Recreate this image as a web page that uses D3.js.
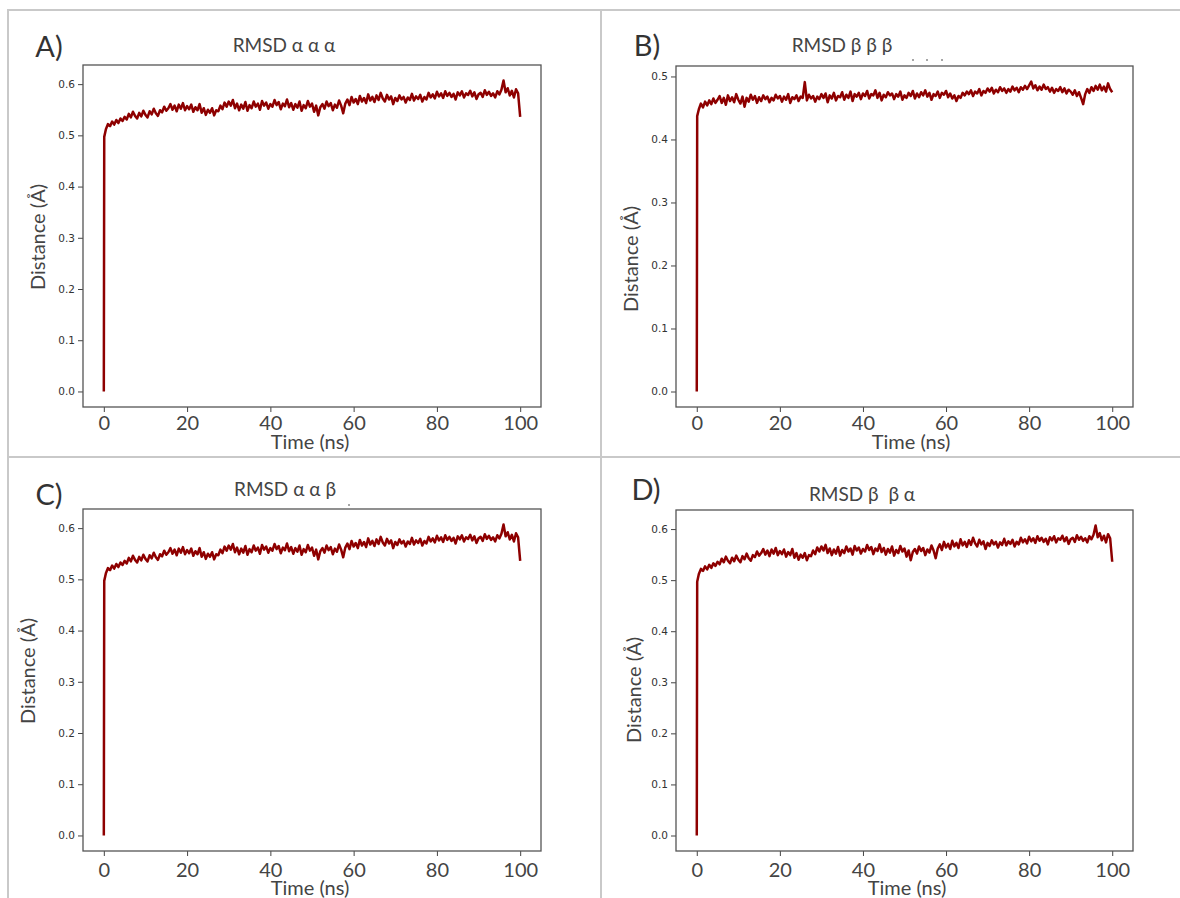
<!DOCTYPE html>
<html><head><meta charset="utf-8">
<script src="https://cdn.jsdelivr.net/npm/d3@7"></script>
<style>body{margin:0;background:#fff} svg{display:block}</style>
</head><body>
<svg id="c" width="1180" height="898"></svg>
<script>
// ---------- data ----------
const panelLetters = ["A)", "B)", "C)", "D)"];
const panelTitles = ["RMSD α α α", "RMSD β β β", "RMSD α α β", "RMSD β  β α"];
const xTicks = [0, 20, 40, 60, 80, 100];
const yTicksAlpha = [0.0, 0.1, 0.2, 0.3, 0.4, 0.5, 0.6];
const yTicksBeta = [0.0, 0.1, 0.2, 0.3, 0.4, 0.5];
const xLabel = "Time (ns)";
const yLabel = "Distance (Å)";
// sampling times (ns): two start samples, then every 0.5 ns up to 100
const timeHead = [0, 0.1];
const timeStep = 0.5;
const timeCount = 200;

// RMSD alpha-alpha-alpha (same trace appears in panels A, C, D)
const rmsdAAA = [
  0.000, 0.497,
  0.512, 0.522, 0.518, 0.527, 0.521, 0.530, 0.524, 0.533, 0.528, 0.536,
  0.531, 0.542, 0.535, 0.546, 0.538, 0.533, 0.544, 0.537, 0.548, 0.540,
  0.535, 0.547, 0.541, 0.552, 0.543, 0.538, 0.549, 0.545, 0.556, 0.548,
  0.553, 0.561, 0.550, 0.558, 0.547, 0.560, 0.552, 0.563, 0.549, 0.557,
  0.551, 0.560, 0.546, 0.555, 0.549, 0.561, 0.544, 0.553, 0.540, 0.550,
  0.544, 0.553, 0.539, 0.549, 0.547, 0.558, 0.551, 0.564, 0.556, 0.566,
  0.558, 0.569, 0.553, 0.562, 0.549, 0.560, 0.552, 0.565, 0.548, 0.559,
  0.553, 0.566, 0.556, 0.562, 0.550, 0.567, 0.558, 0.564, 0.552, 0.561,
  0.556, 0.569, 0.559, 0.565, 0.551, 0.562, 0.557, 0.570, 0.555, 0.563,
  0.550, 0.561, 0.554, 0.566, 0.548, 0.559, 0.553, 0.567, 0.556, 0.562,
  0.546, 0.558, 0.539, 0.555, 0.561, 0.552, 0.566, 0.557, 0.563, 0.549,
  0.560, 0.554, 0.568, 0.558, 0.543, 0.562, 0.570, 0.559, 0.575, 0.564,
  0.571, 0.561, 0.577, 0.566, 0.573, 0.563, 0.580, 0.568, 0.575, 0.565,
  0.578, 0.569, 0.583, 0.572, 0.566, 0.579, 0.570, 0.576, 0.561, 0.573,
  0.567, 0.578, 0.570, 0.575, 0.564, 0.574, 0.569, 0.581, 0.568, 0.576,
  0.571, 0.579, 0.566, 0.575, 0.570, 0.583, 0.574, 0.580, 0.572, 0.585,
  0.576, 0.582, 0.573, 0.586, 0.577, 0.583, 0.575, 0.581, 0.570, 0.584,
  0.578, 0.586, 0.574, 0.582, 0.579, 0.587, 0.576, 0.584, 0.571, 0.580,
  0.583, 0.575, 0.588, 0.579, 0.585, 0.577, 0.582, 0.574, 0.586, 0.580,
  0.589, 0.607, 0.584, 0.592, 0.578, 0.587, 0.574, 0.590, 0.582, 0.536
];

// RMSD beta-beta-beta (panel B)
const rmsdBBB = [
  0.000, 0.437,
  0.448, 0.457, 0.451, 0.460, 0.454, 0.462, 0.456, 0.465, 0.458, 0.463,
  0.469, 0.458, 0.466, 0.455, 0.470, 0.461, 0.467, 0.459, 0.472, 0.463,
  0.457, 0.468, 0.452, 0.466, 0.460, 0.471, 0.463, 0.469, 0.458, 0.467,
  0.461, 0.470, 0.464, 0.468, 0.459, 0.466, 0.462, 0.471, 0.465, 0.469,
  0.460, 0.468, 0.463, 0.472, 0.458, 0.467, 0.464, 0.470, 0.461, 0.468,
  0.466, 0.491, 0.462, 0.471, 0.465, 0.469, 0.460, 0.468, 0.464, 0.472,
  0.466, 0.473, 0.459, 0.470, 0.465, 0.474, 0.462, 0.469, 0.467, 0.475,
  0.463, 0.471, 0.466, 0.476, 0.461, 0.472, 0.468, 0.474, 0.464, 0.473,
  0.469, 0.477, 0.465, 0.472, 0.470, 0.478, 0.466, 0.474, 0.462, 0.471,
  0.467, 0.475, 0.470, 0.473, 0.464, 0.472, 0.468, 0.476, 0.463, 0.470,
  0.466, 0.474, 0.469, 0.477, 0.465, 0.473, 0.467, 0.475, 0.470, 0.478,
  0.468, 0.474, 0.463, 0.472, 0.469, 0.476, 0.466, 0.474, 0.471, 0.477,
  0.467, 0.473, 0.465, 0.470, 0.461, 0.469, 0.466, 0.474, 0.470, 0.476,
  0.472, 0.478, 0.469, 0.476, 0.473, 0.480, 0.470, 0.477, 0.474, 0.481,
  0.476, 0.482, 0.473, 0.479, 0.475, 0.483, 0.477, 0.481, 0.474, 0.480,
  0.476, 0.484, 0.478, 0.482, 0.475, 0.483, 0.479, 0.485, 0.480, 0.486,
  0.492, 0.481, 0.486, 0.478, 0.484, 0.479, 0.487, 0.480, 0.483, 0.476,
  0.482, 0.474, 0.480, 0.477, 0.483, 0.475, 0.481, 0.473, 0.479, 0.476,
  0.471, 0.478, 0.469, 0.475, 0.466, 0.456, 0.472, 0.480, 0.474, 0.483,
  0.477, 0.485, 0.479, 0.487, 0.478, 0.484, 0.476, 0.489, 0.480, 0.475
];

const times = timeHead.concat(d3.range(1, timeCount + 1).map(i => i * timeStep));
const seriesList = [rmsdAAA, rmsdBBB, rmsdAAA, rmsdAAA];
const yTickList = [yTicksAlpha, yTicksBeta, yTicksAlpha, yTicksAlpha];

// ---------- layout ----------
const layout = [
  {x0: 83, x1: 541, y0: 65, y1: 407, letter: [49, 45], title: [284, 44], ylab: [37, 237], xlab: [310, 441], tickLab: 423},
  {x0: 676, x1: 1133, y0: 66, y1: 407, letter: [647, 44], title: [842, 44], ylab: [630, 259], xlab: [911, 441], tickLab: 423},
  {x0: 83, x1: 541, y0: 509, y1: 851, letter: [49, 493], title: [285, 488], ylab: [27, 671], xlab: [310, 887], tickLab: 870},
  {x0: 676, x1: 1133, y0: 510, y1: 851, letter: [646, 488], title: [862, 493], ylab: [633, 690], xlab: [907, 887], tickLab: 870}
];

const svg = d3.select("#c");
const BIG = "Lato, 'Open Sans', sans-serif";
const SMALL = "'DejaVu Sans', sans-serif";

// panel frame lines
const frame = svg.append("g").attr("stroke", "#c9c9c9").attr("stroke-width", 2);
[[7, 10, 1180, 10], [8, 10, 8, 898], [601, 10, 601, 898], [7, 457, 1180, 457]].forEach(l =>
  frame.append("line").attr("x1", l[0]).attr("y1", l[1]).attr("x2", l[2]).attr("y2", l[3]));

layout.forEach((L, i) => {
  const vals = seriesList[i];
  const ext = d3.extent(vals);
  const pad = (ext[1] - ext[0]) * 0.05;
  const x = d3.scaleLinear().domain([-5, 105]).range([L.x0, L.x1]);
  const y = d3.scaleLinear().domain([ext[0] - pad, ext[1] + pad]).range([L.y1, L.y0]);
  const g = svg.append("g");

  // y axis
  const ya = g.append("g").attr("transform", `translate(${L.x0},0)`)
    .call(d3.axisLeft(y).tickValues(yTickList[i]).tickFormat(d3.format(".1f")).tickSize(5).tickPadding(3));
  ya.select(".domain").remove();
  ya.selectAll(".tick line").attr("stroke", "#444");
  ya.selectAll(".tick text").attr("font-family", SMALL).attr("font-size", 10.5).attr("fill", "#333");

  // x axis
  const xa = g.append("g").attr("transform", `translate(0,${L.y1})`)
    .call(d3.axisBottom(x).tickValues(xTicks).tickSize(5));
  xa.select(".domain").remove();
  xa.selectAll(".tick line").attr("stroke", "#444");
  xa.selectAll(".tick text").attr("font-family", BIG).attr("font-size", 20).attr("fill", "#444")
    .attr("y", L.tickLab - L.y1).attr("dy", "0.35em");

  // line
  const line = d3.line().x((d, k) => x(times[k])).y(d => y(d));
  g.append("path").datum(vals).attr("d", line).attr("fill", "none")
    .attr("stroke", "#8e0000").attr("stroke-width", 2.5).attr("stroke-linejoin", "round");

  // box
  g.append("rect").attr("x", L.x0).attr("y", L.y0).attr("width", L.x1 - L.x0).attr("height", L.y1 - L.y0)
    .attr("fill", "none").attr("stroke", "#555").attr("stroke-width", 1.3);

  // texts
  svg.append("text").attr("x", L.letter[0]).attr("y", L.letter[1]).attr("text-anchor", "middle")
    .attr("dominant-baseline", "central").attr("font-family", BIG).attr("font-size", 29).attr("fill", "#333")
    .text(panelLetters[i]);
  svg.append("text").attr("x", L.title[0]).attr("y", L.title[1]).attr("text-anchor", "middle")
    .attr("dominant-baseline", "central").attr("font-family", BIG).attr("font-size", 19).attr("fill", "#444")
    .attr("xml:space", "preserve").text(panelTitles[i]);
  svg.append("text").attr("x", L.xlab[0]).attr("y", L.xlab[1]).attr("text-anchor", "middle")
    .attr("dominant-baseline", "central").attr("font-family", BIG).attr("font-size", 20).attr("fill", "#444")
    .text(xLabel);
  svg.append("text").attr("transform", `translate(${L.ylab[0]},${L.ylab[1]}) rotate(-90)`)
    .attr("text-anchor", "middle").attr("dominant-baseline", "central").attr("font-family", BIG)
    .attr("font-size", 20).attr("fill", "#444").text(yLabel);
});

// small stray marks in the original figure
[[913, 60], [927, 60], [942, 60], [349, 505]].forEach(p =>
  svg.append("circle").attr("cx", p[0]).attr("cy", p[1]).attr("r", 1).attr("fill", "#888"));
</script>
</body></html>
